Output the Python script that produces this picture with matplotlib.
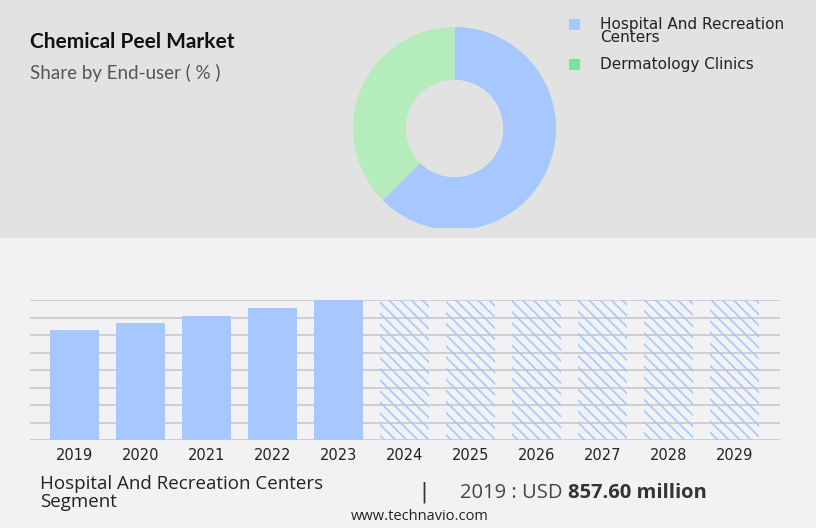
import numpy as np
import matplotlib.pyplot as plt
from matplotlib.patches import Rectangle

# ------------------------------
# Data
# ------------------------------
years = ['2019', '2020', '2021', '2022', '2023', '2024', '2025', '2026', '2027', '2028', '2029']
hist_values = [857.6, 912.0, 967.0, 1029.0, 1090.0]
n_forecast = 6
segments = ['Hospital And Recreation Centers', 'Dermatology Clinics']
shares = [62.5, 37.5]

BLUE = '#a6c8ff'
GREEN_PIE = '#b5ecbb'
GREEN_LEG = '#77e59b'

plt.rcParams['hatch.linewidth'] = 1.2

W, H = 816, 528
fig = plt.figure(figsize=(W / 100, H / 100), dpi=100)
fig.patch.set_facecolor('#f2f2f4')


def px_axes(x0, y0, x1, y1, **kw):
    # pixel box (top-left origin) -> figure axes
    return fig.add_axes([x0 / W, 1 - y1 / H, (x1 - x0) / W, (y1 - y0) / H], **kw)


# top grey panel
fig.patches.append(Rectangle((0, 1 - 238 / H), 1, 238 / H, transform=fig.transFigure,
                             facecolor='#e2e2e2', edgecolor='none', zorder=-5))

fig.text(30 / W, 1 - 42 / H, 'Chemical Peel Market', fontsize=15, fontweight='bold',
         color='#111111', va='center', family='Lato')
fig.text(30 / W, 1 - 73 / H, 'Share by End-user ( % )', fontsize=13.5, color='#555555',
         va='center', family='Lato')

# ------------------------------
# Donut
# ------------------------------
r = 101.5
cx, cy = 454.5, 128.5
ax_pie = px_axes(cx - r, cy - r, cx + r, 228)
wedges, _ = ax_pie.pie(shares, colors=[BLUE, GREEN_PIE], startangle=90, counterclock=False,
                       wedgeprops=dict(width=0.52, edgecolor='none'))
ax_pie.set_aspect('auto')
ax_pie.set_xlim(-1, 1)
ax_pie.set_ylim(-(228 - cy) / r, 1)
ax_pie.axis('off')
for w in wedges:
    w.set_clip_on(True)
    w.set_clip_path(ax_pie.patch)

# legend
for lab, col, y in [('Hospital And Recreation\nCenters', BLUE, 24),
                    ('Dermatology Clinics', GREEN_LEG, 64)]:
    fig.patches.append(Rectangle((569 / W, 1 - (y + 6) / H), 11 / W, 11 / H,
                                 transform=fig.transFigure, facecolor=col,
                                 edgecolor='none', zorder=2))
    fig.text(600 / W, 1 - (y - 7) / H, lab, fontsize=11, color='#222222', va='top',
             linespacing=0.85, family='DejaVu Sans')

# ------------------------------
# Bars
# ------------------------------
ax = px_axes(30, 300, 780, 440)
ax.set_facecolor('none')
x = np.arange(len(years))
top = max(hist_values)
ax.bar(x[:5], hist_values, width=0.74, color=BLUE, zorder=3)
ax.bar(x[5:], [top] * n_forecast, width=0.74, facecolor='none', edgecolor=BLUE,
       linewidth=0, hatch='\\\\\\', zorder=3)
ax.set_xlim(-0.674, len(years) - 1 + 0.69)
ax.set_ylim(0, top)
ax.set_yticks(np.linspace(0, top, 9))
ax.yaxis.grid(True, color='#c8c8c8', linewidth=1.2, zorder=0)
ax.set_yticklabels([])
ax.tick_params(axis='y', length=0)
ax.tick_params(axis='x', length=0, pad=6, labelsize=10.5, labelcolor='#222222')
ax.set_xticks(x)
ax.set_xticklabels(years)
for s in ax.spines.values():
    s.set_visible(False)

# ------------------------------
# Footer
# ------------------------------
fig.text(40 / W, 1 - 493 / H, 'Hospital And Recreation Centers\nSegment', fontsize=13.5,
         color='#222222', va='center', linespacing=1.05, family='Open Sans')
fig.text(420 / W, 1 - 492 / H, '|', fontsize=15, color='#333333', va='center')
t = fig.text(460 / W, 1 - 493 / H, '2019 : USD ', fontsize=14.5, color='#444444',
             va='center', family='Open Sans')
fig.canvas.draw()
bb = t.get_window_extent()
fig.text(bb.x1 / W, 1 - 493 / H, '857.60 million', fontsize=14.5, fontweight='bold',
         color='#333333', va='center', family='Open Sans')
fig.text(420 / W, 1 - 517 / H, 'www.technavio.com', fontsize=10.5, color='#222222',
         ha='center', va='center', family='Open Sans')

fig.savefig('out.png', dpi=100, facecolor=fig.get_facecolor())
